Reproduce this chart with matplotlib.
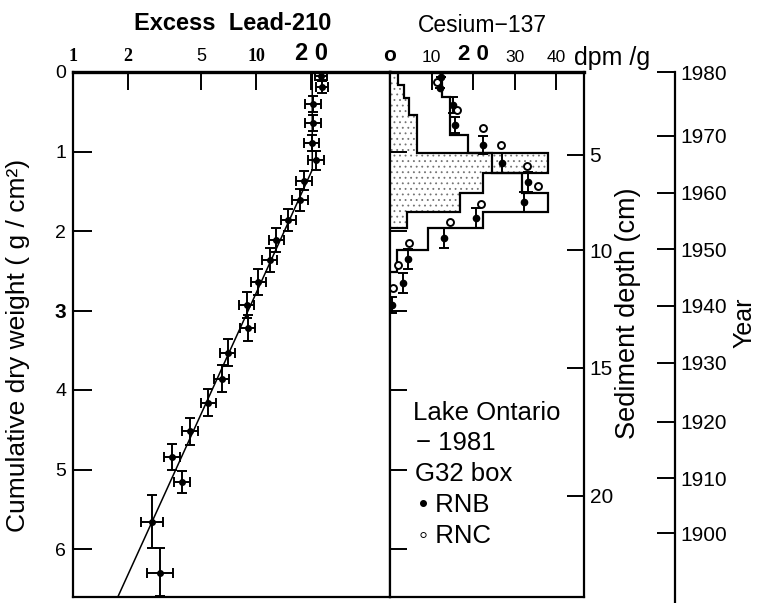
import numpy as np
import matplotlib
matplotlib.use('Agg')
from matplotlib import pyplot as plt
from matplotlib.ticker import NullLocator

plt.rcParams['font.family'] = ['Liberation Sans', 'DejaVu Sans']
plt.rcParams['hatch.linewidth'] = 0.6
plt.rcParams['hatch.color'] = '0.45'

# excess Pb-210 (dpm/g) against cumulative dry weight (g/cm2)
pb_weight = [0.05, 0.19, 0.40, 0.64, 0.89, 1.11, 1.37, 1.61, 1.86, 2.11, 2.36,
             2.64, 2.93, 3.22, 3.53, 3.86, 4.16, 4.52, 4.84, 5.16, 5.66, 6.30]
pb_activity = [22.7, 22.9, 20.5, 20.5, 20.2, 21.3, 18.3, 17.4, 15.0, 12.9, 11.9,
               10.3, 8.9, 9.0, 7.0, 6.5, 5.5, 4.36, 3.47, 3.94, 2.70, 2.99]
pb_rel_err = [0.08, 0.08, 0.1, 0.1, 0.1, 0.1, 0.1, 0.1, 0.1, 0.1, 0.1,
              0.1, 0.1, 0.1, 0.1, 0.1, 0.1, 0.1, 0.11, 0.11, 0.15, 0.18]
pb_werr_top = [0.05, 0.08, 0.1, 0.1, 0.1, 0.12, 0.12, 0.14, 0.14, 0.15, 0.15,
               0.16, 0.16, 0.16, 0.17, 0.17, 0.17, 0.17, 0.16, 0.14, 0.34, 0.31]
pb_werr_bot = [0.05, 0.08, 0.1, 0.1, 0.1, 0.12, 0.12, 0.14, 0.14, 0.15, 0.15,
               0.16, 0.16, 0.16, 0.17, 0.17, 0.17, 0.17, 0.16, 0.14, 0.33, 0.29]

# fitted line (mixed layer on top, then exponential decline)
fit_activity = [20.3, 20.3, 1.76]
fit_weight = [0.0, 1.23, 6.6]

# Cs-137 step profiles (dpm/g)
cs_shaded_edges = [0, 0.164, 0.327, 0.541, 1.019, 1.270, 1.522, 1.761, 1.962]
cs_shaded = [1.9, 3.4, 4.6, 6.5, 38.1, 22.4, 16.9, 4.1]
cs_line_edges = [0, 0.314, 0.792, 1.019, 1.270, 1.522, 1.761, 1.962, 2.239, 2.516]
cs_line = [12.5, 14.5, 18.8, 24.6, 31.8, 38.1, 22.4, 9.2, 1.7]

# Cs-137 cores
rnb_cs = [12.3, 12.0, 15.2, 15.7, 22.4, 27.0, 33.3, 32.3, 20.7, 13.0, 4.3, 3.1, 0.5]
rnb_weight = [0.063, 0.20, 0.415, 0.667, 0.918, 1.145, 1.384, 1.635, 1.836,
              2.088, 2.352, 2.654, 2.931]
rnb_err = [0, 0, 0.1, 0.1, 0.11, 0.12, 0.13, 0.12, 0.12, 0.13, 0.13, 0.13, 0.1]
rnc_cs = [11.3, 16.1, 22.4, 26.7, 33.0, 35.7, 21.9, 14.5, 4.6, 1.9, 0.7]
rnc_weight = [0.126, 0.478, 0.704, 0.918, 1.182, 1.434, 1.660, 1.887, 2.151,
              2.428, 2.717]

# secondary scales
depth_cm = [5, 10, 15, 20]
depth_weight = [1.044, 2.24, 3.72, 5.33]
years = [1980, 1970, 1960, 1950, 1940, 1930, 1920, 1910, 1900]
year_weight = [0.0, 0.805, 1.52, 2.23, 2.94, 3.66, 4.40, 5.11, 5.80]

W, H = 757, 603


def fx(x):
    return x / W


def fy(y):
    return 1 - y / H


fig = plt.figure(figsize=(W / 100, H / 100), dpi=100)
ymax = (597 - 72) / 79.5

# ---- Lead-210 panel
ax1 = fig.add_axes([fx(73), fy(597), fx(390 - 73), (597 - 72) / H])
pb_a = np.array(pb_activity)
pb_r = np.array(pb_rel_err)
xerr = [pb_a - pb_a / (1 + pb_r), pb_a * pb_r]
ax1.errorbar(pb_activity, pb_weight, xerr=xerr, yerr=[pb_werr_top, pb_werr_bot],
             fmt='o', color='black', ms=4, elinewidth=1.4, capsize=3.5, capthick=1.4)
ax1.plot(fit_activity, fit_weight, color='black', lw=1.1)
ax1.set_xscale('log')
ax1.set_xlim(1, 54)
ax1.set_ylim(ymax, 0)
ax1.xaxis.set_minor_locator(NullLocator())
ax1.xaxis.tick_top()
ax1.set_xticks([1, 2, 5, 10, 20], labels=['1', '2', '5', '10', '2 0'])
ax1.set_yticks(range(7), labels=['0', '1', '2', '3', '4', '5', '6'])
ax1.tick_params(axis='x', direction='in', length=13, width=1.4, pad=5, labelsize=13)
ax1.tick_params(axis='y', direction='in', length=14, width=1.4, pad=5, labelsize=14)
tl = ax1.get_xticklabels()
for i in (0, 1, 3):
    tl[i].set_fontfamily('Liberation Serif')
    tl[i].set_fontweight('bold')
tl[4].set_fontweight('bold')
tl[4].set_fontsize(17)
tly = ax1.get_yticklabels()
tly[3].set_fontweight('bold')
tly[3].set_fontsize(15)
for sp in ax1.spines.values():
    sp.set_linewidth(1.6)
ax1.spines['top'].set_linewidth(2.4)

# ---- Cesium-137 panel
ax2 = fig.add_axes([fx(390), fy(597), fx(584 - 390), (597 - 72) / H])
ax2.stairs(cs_shaded, cs_shaded_edges, orientation='horizontal', baseline=0,
           fill=True, facecolor='white', edgecolor='0.45', hatch='...', linewidth=0)
ax2.stairs(cs_shaded, cs_shaded_edges, orientation='horizontal', baseline=0,
           color='black', lw=1.6)
ax2.stairs(cs_line, cs_line_edges, orientation='horizontal', baseline=0,
           color='black', lw=1.6)
ax2.errorbar(rnb_cs, rnb_weight, yerr=rnb_err, fmt='o', color='black', ms=4.5,
             elinewidth=1.4, capsize=3.5, capthick=1.4, zorder=4)
ax2.plot(rnc_cs, rnc_weight, 'o', mfc='white', mec='black', mew=1.4, ms=5, ls='none', zorder=4)
ax2.set_xlim(0, (584 - 390) / 4.15)
ax2.set_ylim(ymax, 0)
ax2.xaxis.tick_top()
ax2.set_xticks([0, 10, 20, 30, 40], labels=['o', '10', '2 0', '30', '40'])
ax2.set_yticks(range(1, 7), labels=[])
ax2.tick_params(axis='x', direction='in', length=13, width=1.4, pad=5, labelsize=12.5)
ax2.tick_params(axis='y', direction='in', length=12, width=1.4)
tl2 = ax2.get_xticklabels()
tl2[0].set_fontweight('bold')
tl2[0].set_fontsize(15)
tl2[2].set_fontweight('bold')
tl2[2].set_fontsize(16)
for sp in ax2.spines.values():
    sp.set_linewidth(1.6)
ax2.spines['top'].set_linewidth(2.4)

# sediment depth on the right edge of the cesium panel
axd = ax2.twinx()
axd.set_ylim(ymax, 0)
axd.set_yticks(depth_weight, labels=[str(d) for d in depth_cm])
axd.tick_params(axis='y', direction='in', length=12, width=1.4, pad=4, labelsize=15)
for sp in axd.spines.values():
    sp.set_visible(False)

# year scale
ax3 = fig.add_axes([fx(675), fy(602), 0.0001, (602 - 72) / H])
ax3.patch.set_visible(False)
ax3.set_ylim((602 - 72) / 79.5, 0)
for name, sp in ax3.spines.items():
    sp.set_visible(name == 'right')
ax3.spines['right'].set_linewidth(1.6)
ax3.set_xticks([])
ax3.yaxis.tick_right()
ax3.set_yticks(year_weight, labels=[str(y) for y in years])
ax3.tick_params(axis='y', direction='in', length=13, width=1.4, pad=4, labelsize=15)

# titles and labels
fig.text(fx(233), fy(23), 'Excess  Lead-210', ha='center', va='center',
         fontsize=17, fontweight='bold')
fig.text(fx(482), fy(25), 'Cesium\u2212137', ha='center', va='center', fontsize=16.5)
fig.text(fx(612), fy(58), 'dpm /g', ha='center', va='center', fontsize=18)
fig.text(fx(18), fy(345), 'Cumulative dry weight ( g / cm\u00b2)', rotation=90,
         ha='center', va='center', fontsize=19)
fig.text(fx(628), fy(313), 'Sediment depth (cm)', rotation=90, ha='center',
         va='center', fontsize=19.5)
fig.text(fx(744), fy(323), 'Year', rotation=90, ha='center', va='center', fontsize=18)

# core legend
fig.text(fx(413), fy(413), 'Lake Ontario', va='center', fontsize=18.5)
fig.text(fx(416), fy(443), '\u2212 1981', va='center', fontsize=18.5)
fig.text(fx(415), fy(474), 'G32 box', va='center', fontsize=18.5)
fig.text(fx(419), fy(505), '\u2022 RNB', va='center', fontsize=18.5)
fig.text(fx(419), fy(536), '\u25e6 RNC', va='center', fontsize=18.5)

fig.savefig('out.png', dpi=100)
